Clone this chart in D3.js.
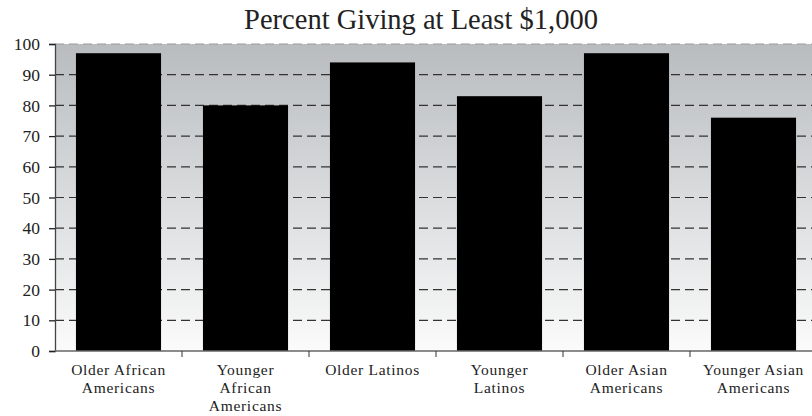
<!DOCTYPE html>
<html>
<head>
<meta charset="utf-8">
<script src="https://cdn.jsdelivr.net/npm/d3@7"></script>
<style>
  body { margin: 0; background: #fff; }
</style>
</head>
<body>
<div id="chart"></div>
<script>
// Data
const categories = [
  'Older African Americans',
  'Younger African Americans',
  'Older Latinos',
  'Younger Latinos',
  'Older Asian Americans',
  'Younger Asian Americans',
];
const labelLines = [
  ['Older African', 'Americans'],
  ['Younger', 'African', 'Americans'],
  ['Older Latinos'],
  ['Younger', 'Latinos'],
  ['Older Asian', 'Americans'],
  ['Younger Asian', 'Americans'],
];
const values = [97, 80, 94, 83, 97, 76];
const yTicks = [0, 10, 20, 30, 40, 50, 60, 70, 80, 90, 100];

const FONT = 'Liberation Serif';

const width = 812;
const height = 416;
const margin = { t: 44, r: -5, b: 65, l: 55 };
const innerW = width - margin.l - margin.r;
const innerH = height - margin.t - margin.b;

const svg = d3
  .select('#chart')
  .append('svg')
  .attr('width', width)
  .attr('height', height);

// background gradient
const grad = svg.append('defs').append('linearGradient')
  .attr('id', 'bg')
  .attr('x1', 0).attr('y1', 0).attr('x2', 0).attr('y2', 1);
grad.append('stop').attr('offset', '0%').attr('stop-color', '#b8bcbf');
grad.append('stop').attr('offset', '100%').attr('stop-color', '#fbfbfb');

const g = svg.append('g').attr('transform', `translate(${margin.l}, ${margin.t})`);

const x = d3.scaleBand().domain(categories).range([0, innerW]).paddingInner(0.33).paddingOuter(0.165);
const y = d3.scaleLinear().domain([0, 100]).range([innerH, 0]);

g.append('rect')
  .attr('x', 0).attr('y', 0)
  .attr('width', innerW).attr('height', innerH)
  .attr('fill', 'url(#bg)');

// gridlines
g.append('g')
  .selectAll('line')
  .data(yTicks.filter((d) => d > 0))
  .join('line')
  .attr('x1', 0)
  .attr('x2', innerW)
  .attr('y1', (d) => y(d))
  .attr('y2', (d) => y(d))
  .attr('stroke', (d) => (d === 100 ? '#999' : '#333'))
  .attr('stroke-width', 1.2)
  .attr('stroke-dasharray', '9,5');

// bars
g.append('g')
  .selectAll('rect')
  .data(values)
  .join('rect')
  .attr('x', (d, i) => x(categories[i]))
  .attr('y', (d) => y(d))
  .attr('width', x.bandwidth())
  .attr('height', (d) => innerH - y(d))
  .attr('fill', '#000');

// y axis
const yAxis = g.append('g')
  .call(d3.axisLeft(y).tickValues(yTicks).tickSize(6).tickPadding(9));
yAxis.select('.domain').attr('stroke', '#444').attr('stroke-width', 1.3);
yAxis.selectAll('.tick line').attr('stroke', '#222').attr('stroke-width', 1.3);
yAxis.selectAll('.tick text')
  .attr('font-family', FONT)
  .attr('font-size', 17.5)
  .attr('fill', '#222');

// x axis: baseline + ticks between categories
g.append('line')
  .attr('x1', 0).attr('x2', innerW)
  .attr('y1', innerH).attr('y2', innerH)
  .attr('stroke', '#666').attr('stroke-width', 1.5);

const step = x.step();
g.append('g')
  .selectAll('line')
  .data(categories)
  .join('line')
  .attr('x1', (d) => x(d) - x.paddingOuter() * step + step)
  .attr('x2', (d) => x(d) - x.paddingOuter() * step + step)
  .attr('y1', innerH)
  .attr('y2', innerH + 6)
  .attr('stroke', '#333');

// category labels, one text per line
const labels = g.append('g')
  .selectAll('g')
  .data(categories)
  .join('g')
  .attr('transform', (d) => `translate(${x(d) + x.bandwidth() / 2}, ${innerH + 24})`);

labels.selectAll('text')
  .data((d, i) => labelLines[i])
  .join('text')
  .attr('text-anchor', 'middle')
  .attr('y', (t, j) => j * 18)
  .attr('font-family', FONT)
  .attr('font-size', 15.5)
  .attr('letter-spacing', 0.7)
  .attr('fill', '#222')
  .text((t) => t);

// title
svg.append('text')
  .attr('x', 421)
  .attr('y', 29)
  .attr('text-anchor', 'middle')
  .attr('font-family', FONT)
  .attr('font-size', 28.5)
  .attr('fill', '#222')
  .text('Percent Giving at Least $1,000');
</script>
</body>
</html>
